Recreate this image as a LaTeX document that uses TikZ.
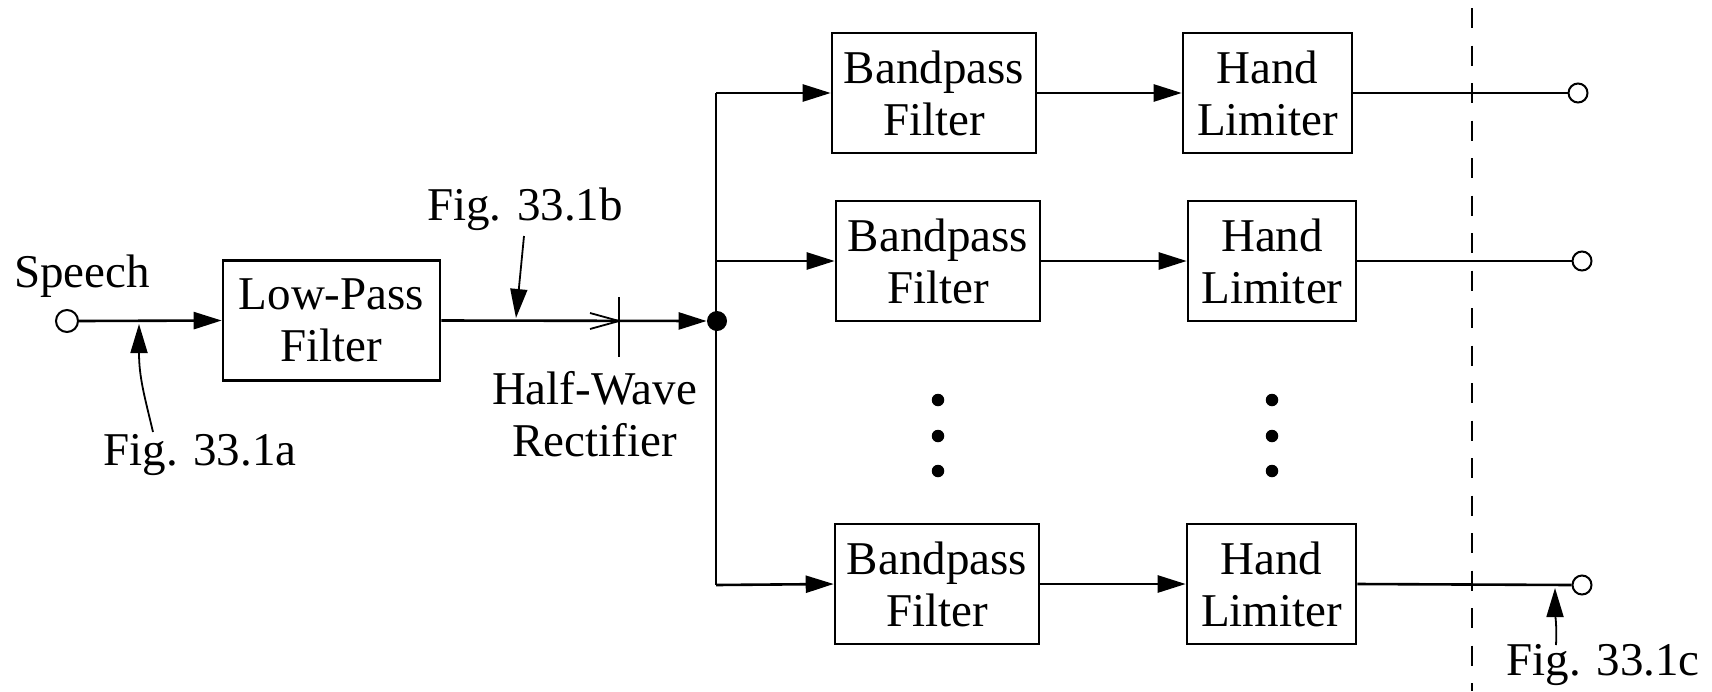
\documentclass[tikz,border=0pt]{standalone}
\usepackage{fontspec}
\setmainfont{Liberation Serif}
\usetikzlibrary{arrows.meta}
\begin{document}
\begin{tikzpicture}[x=0.5pt,y=-0.5pt,
  every node/.style={font=\fontsize{23.5}{26}\selectfont, inner sep=0pt},
  blk/.style={draw, line width=1.3pt, minimum height=60pt, align=center},
  sig/.style={line width=1.3pt},
  arr/.style={sig, -{Triangle[length=14pt,width=8.5pt]}},
  ptr/.style={line width=0.9pt, -{Triangle[length=14.5pt,width=8.5pt]}},
  port/.style={circle, draw, line width=1pt, fill=white, minimum size=#1},
  port/.default=9.5pt,
  dotp/.style={circle, fill, minimum size=6.25pt},
]
\useasboundingbox (0,0) rectangle (1712,691);

% processing blocks
\node[blk, minimum width=108.5pt] (lpf) at (331.5,320.5) {Low-Pass\\Filter};
\node[blk, minimum width=102pt] (bp1) at (934,93)  {Bandpass\\Filter};
\node[blk, minimum width=84.5pt] (hl1) at (1267.5,93) {Hand\\Limiter};
\node[blk, minimum width=102pt] (bp2) at (938,261) {Bandpass\\Filter};
\node[blk, minimum width=84pt]  (hl2) at (1272,261) {Hand\\Limiter};
\node[blk, minimum width=102pt] (bp3) at (937,584) {Bandpass\\Filter};
\node[blk, minimum width=84.5pt] (hl3) at (1271.5,584) {Hand\\Limiter};

% terminals and junction
\node[port=11pt] (in) at (67,321) {};
\node[port] (o1) at (1578,93) {};
\node[port] (o2) at (1582,261) {};
\node[port] (o3) at (1582,585) {};
\node[circle, fill, minimum size=10pt] (jn) at (717,321) {};
\coordinate (b1) at (716,93);
\coordinate (b2) at (716,261);
\coordinate (b3) at (716,585);

% ellipsis dots
\foreach \y [count=\i] in {400,436,471}{
  \node[dotp] (da\i) at (938,\y) {};
  \node[dotp] (db\i) at (1272,\y) {};
}

% labels
\node[anchor=base] (speech) at (82,287) {Speech};
\node[anchor=base] (fa) at (200,465) {Fig. 33.1a};
\node[anchor=base] (fb) at (525,220) {Fig. 33.1b};
\node[align=center] (hw) at (594.5,414) {Half-Wave\\Rectifier};
\node[anchor=base] (fc) at (1603,675) {Fig. 33.1c};

% signal path
\draw[arr] (in.east) -- (lpf.west);
\draw[arr] (lpf.east) -- (jn.west);
\draw[sig] (b1) -- (b3);
\draw[arr] (b1) -- (bp1.west);
\draw[arr] (b2) -- (bp2.west);
\draw[arr] (b3) -- (bp3.west);
\draw[arr] (bp1.east) -- (hl1.west);
\draw[arr] (bp2.east) -- (hl2.west);
\draw[arr] (bp3.east) -- (hl3.west);
\draw[sig] (hl1.east) -- (o1.west);
\draw[sig] (hl2.east) -- (o2.west);
\draw[sig] (hl3.east) -- (o3.west);

% half-wave rectifier symbol
\coordinate (rc) at (619,321);
\draw[sig] (rc) ++(0,-24) -- ++(0,60);
\draw[line width=0.9pt] (rc) ++(-29,-8) -- (rc) -- ++(-29,8);

% figure pointers
\coordinate (fat) at (153,432);
\coordinate (fah) at (139,324);
\draw[ptr] (fat) .. controls (145,398) and (139,378) .. (fah);
\coordinate (fbt) at (524,236);
\coordinate (fbh) at (516,318);
\draw[ptr] (fbt) -- (fbh);
\coordinate (fct) at (1556,645);
\coordinate (fch) at (1555,588);
\draw[ptr] (fct) .. controls (1557,625) and (1555,612) .. (fch);

% dashed boundary
\coordinate (dt) at (1472,8);
\coordinate (db) at (1472,691);
\draw[line width=1pt, dash pattern=on 10pt off 8.75pt] (dt) -- (db);
\end{tikzpicture}
\end{document}
